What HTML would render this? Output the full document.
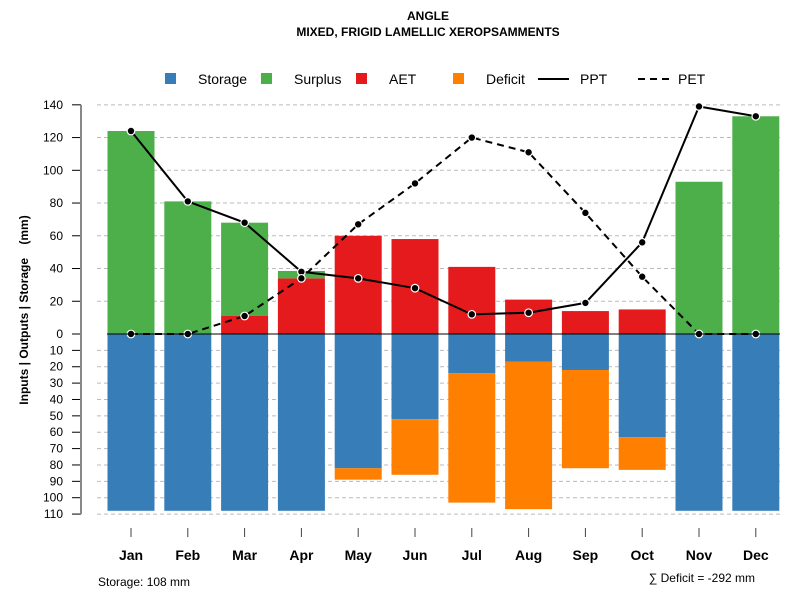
<!DOCTYPE html>
<html><head><meta charset="utf-8"><style>
body{margin:0;background:#fff;font-family:"Liberation Sans",sans-serif}
svg text{font-family:"Liberation Sans",sans-serif}
</style></head><body>
<svg id="c" width="800" height="600">
<text x="428" y="20" text-anchor="middle" font-size="12" font-weight="bold">ANGLE</text>
<text x="428" y="36" text-anchor="middle" font-size="12" font-weight="bold">MIXED, FRIGID LAMELLIC XEROPSAMMENTS</text>
<g font-size="14">
<rect x="165" y="73" width="11" height="11" fill="#377eb8"/><text x="198" y="84">Storage</text>
<rect x="261" y="73" width="11" height="11" fill="#4daf4a"/><text x="294" y="84">Surplus</text>
<rect x="356" y="73" width="11" height="11" fill="#e41a1c"/><text x="389" y="84">AET</text>
<rect x="453" y="73" width="11" height="11" fill="#ff7f00"/><text x="486" y="84">Deficit</text>
<line x1="538" y1="79" x2="569" y2="79" stroke="#000" stroke-width="2"/><text x="580" y="84">PPT</text>
<line x1="638" y1="79" x2="670" y2="79" stroke="#000" stroke-width="2" stroke-dasharray="7,5"/><text x="678" y="84">PET</text>
</g>
<text transform="translate(28,310) rotate(-90)" text-anchor="middle" font-size="12" font-weight="bold" style="white-space:pre" xml:space="preserve">Inputs | Outputs | Storage    (mm)</text>
<text x="98" y="586" font-size="12">Storage: 108 mm</text>
<text x="755" y="582" text-anchor="end" font-size="12">∑ Deficit = -292 mm</text>
<g id="grid"></g><g id="bars"></g><g id="lines"></g><g id="axes"></g>
</svg>
<script>
const months=["Jan","Feb","Mar","Apr","May","Jun","Jul","Aug","Sep","Oct","Nov","Dec"];
const storage=[108,108,108,108,82,52,24,17,22,63,108,108];
const deficit=[0,0,0,0,7,34,79,90,60,20,0,0];
const aet=[0,0,11,34,60,58,41,21,14,15,0,0];
const surplus=[124,81,57,4.5,0,0,0,0,0,0,93,133];
const ppt=[124,81,68,38,34,28,12,13,19,56,139,133];
const pet=[0,0,11,34,67,92,120,111,74,35,0,0];
const upTicks=[0,20,40,60,80,100,120,140];
const downTicks=[10,20,30,40,50,60,70,80,90,100,110];
const NS="http://www.w3.org/2000/svg";
const y0=334,k=1.637;
const yUp=v=>y0-v*k, yDn=v=>y0+v*k;
const xC=i=>131+i*56.8;
const bw=47;
function mk(p,t,a){const e=document.createElementNS(NS,t);for(const n in a)e.setAttribute(n,a[n]);document.getElementById(p).appendChild(e);return e;}
function ytick(y,lbl,name){
 const tk=mk('axes','line',{x1:72,x2:81,y1:y,y2:y,stroke:'#000'});
 
 
 const t=mk('axes','text',{x:63,y:y+4,'text-anchor':'end','font-size':12});t.textContent=lbl;
 
 
}
upTicks.forEach(v=>{
 if(v>0){const l=mk('grid','line',{x1:97,x2:780,y1:yUp(v),y2:yUp(v),stroke:'#bbb','stroke-dasharray':'4,3'});
 
 }
 ytick(yUp(v),v,'y-tick-'+v);
});
downTicks.forEach(v=>{
 const l=mk('grid','line',{x1:97,x2:780,y1:yDn(v),y2:yDn(v),stroke:'#bbb','stroke-dasharray':'4,3'});
 
 
 ytick(yDn(v),v,'y-tick-down-'+v);
});
months.forEach((m,i)=>{
 const x=xC(i)-bw/2;
 const s=mk('bars','rect',{x:x,y:y0,width:bw,height:storage[i]*k,fill:'#377eb8'});
 
 
 if(deficit[i]>0){const d=mk('bars','rect',{x:x,y:yDn(storage[i]),width:bw,height:deficit[i]*k,fill:'#ff7f00'});
 
 }
 if(aet[i]>0){const a=mk('bars','rect',{x:x,y:yUp(aet[i]),width:bw,height:aet[i]*k,fill:'#e41a1c'});
 
 }
 if(surplus[i]>0){const u=mk('bars','rect',{x:x,y:yUp(aet[i]+surplus[i]),width:bw,height:surplus[i]*k,fill:'#4daf4a'});
 
 }
 const tk=mk('axes','line',{x1:xC(i),x2:xC(i),y1:528,y2:537,stroke:'#444'});
 
 
 const t=mk('axes','text',{x:xC(i),y:560,'text-anchor':'middle','font-size':14,'font-weight':'bold'});t.textContent=m;
 
 
});
const zl=mk('axes','line',{x1:107,x2:780,y1:y0,y2:y0,stroke:'#000'});


const ya=mk('axes','line',{x1:81,x2:81,y1:yUp(140),y2:yDn(110),stroke:'#888','stroke-width':2});


const p1=mk('lines','polyline',{points:ppt.map((v,i)=>xC(i)+','+yUp(v)).join(' '),fill:'none',stroke:'#000','stroke-width':2});


const p2=mk('lines','polyline',{points:pet.map((v,i)=>xC(i)+','+yUp(v)).join(' '),fill:'none',stroke:'#000','stroke-width':2,'stroke-dasharray':'7,5'});


[ppt,pet].forEach((arr,j)=>arr.forEach((v,i)=>{
 const c=mk('lines','circle',{cx:xC(i),cy:yUp(v),r:3.8,fill:'#000',stroke:'#fff','stroke-width':1.2});
 
 
}));
</script>
</body></html>
